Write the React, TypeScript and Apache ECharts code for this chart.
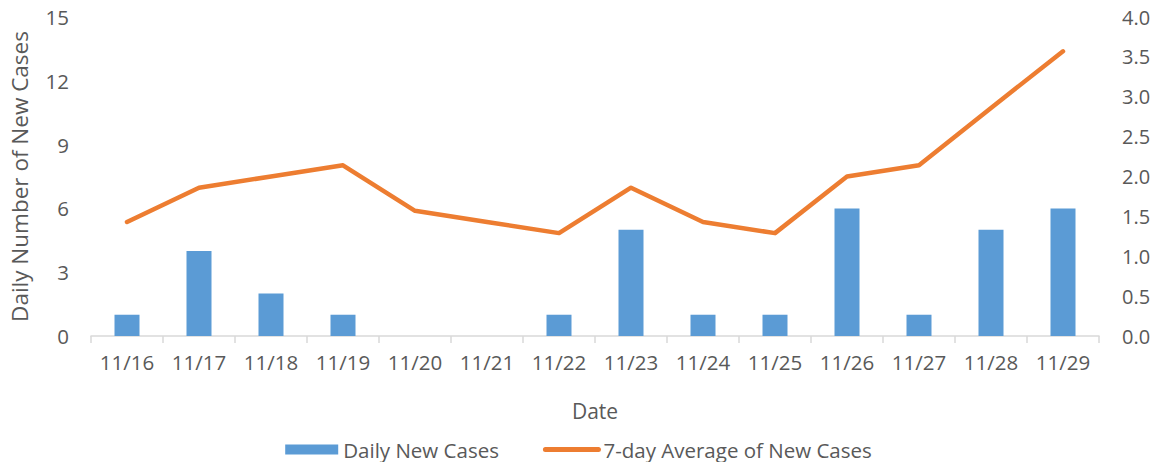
import React, { useEffect, useRef } from "react";
import * as echarts from "echarts";

const dates = ["11/16", "11/17", "11/18", "11/19", "11/20", "11/21", "11/22", "11/23", "11/24", "11/25", "11/26", "11/27", "11/28", "11/29"];
const dailyNewCases = [1, 4, 2, 1, 0, 0, 1, 5, 1, 1, 6, 1, 5, 6];
const sevenDayAverage = [1.43, 1.86, 2.0, 2.14, 1.57, 1.43, 1.29, 1.86, 1.43, 1.29, 2.0, 2.14, 2.86, 3.57];

const FONT = "'Open Sans', 'Noto Sans', sans-serif";
const TEXT = "#595959";

export default function App() {
  const ref = useRef<HTMLDivElement>(null);
  useEffect(() => {
    if (!ref.current) return;
    const chart = echarts.init(ref.current, null, { renderer: "svg" });
    chart.setOption({
      animation: false,
      textStyle: { fontFamily: FONT, color: TEXT },
      grid: { left: 91, right: 58, top: 17, bottom: 126, containLabel: false },
      legend: {
        top: 434,
        left: "center",
        itemWidth: 53,
        itemHeight: 10,
        itemGap: 44,
        textStyle: { fontFamily: FONT, fontSize: 20.5, color: TEXT },
        data: [
          { name: "Daily New Cases", icon: "rect" },
          {
            name: "7-day Average of New Cases",
            itemStyle: { opacity: 0 },
            lineStyle: { width: 5, cap: "round" },
          },
        ],
      },
      xAxis: {
        type: "category",
        data: dates,
        name: "Date",
        nameLocation: "middle",
        nameGap: 64,
        nameTextStyle: { fontFamily: FONT, fontSize: 21, color: TEXT },
        axisLine: { lineStyle: { color: "#D9D9D9", width: 1.5 } },
        axisTick: { show: true, length: 7, lineStyle: { color: "#D9D9D9", width: 1.5 } },
        axisLabel: { fontFamily: FONT, fontSize: 20.5, color: TEXT, margin: 15 },
      },
      yAxis: [
        {
          type: "value",
          min: 0,
          max: 15,
          interval: 3,
          name: "Daily Number of New Cases",
          nameLocation: "middle",
          nameGap: 60,
          nameTextStyle: { fontFamily: FONT, fontSize: 22.5, color: TEXT },
          axisLine: { show: false },
          axisTick: { show: false },
          splitLine: { show: false },
          axisLabel: { fontFamily: FONT, fontSize: 20.5, color: TEXT, margin: 22 },
        },
        {
          type: "value",
          min: 0,
          max: 4,
          interval: 0.5,
          axisLine: { show: false },
          axisTick: { show: false },
          splitLine: { show: false },
          axisLabel: {
            fontFamily: FONT,
            fontSize: 20,
            color: TEXT,
            margin: 23,
            formatter: (v: number) => v.toFixed(1),
          },
        },
      ],
      series: [
        {
          name: "Daily New Cases",
          type: "bar",
          data: dailyNewCases,
          barWidth: 25,
          itemStyle: { color: "#5B9BD5" },
        },
        {
          name: "7-day Average of New Cases",
          type: "line",
          yAxisIndex: 1,
          data: sevenDayAverage,
          symbol: "none",
          lineStyle: { color: "#ED7D31", width: 4.5, cap: "round", join: "round" },
          itemStyle: { color: "#ED7D31" },
        },
      ],
    });
    return () => chart.dispose();
  }, []);
  return <div ref={ref} style={{ position: "absolute", left: 0, top: 0, width: 1157, height: 462 }} />;
}
